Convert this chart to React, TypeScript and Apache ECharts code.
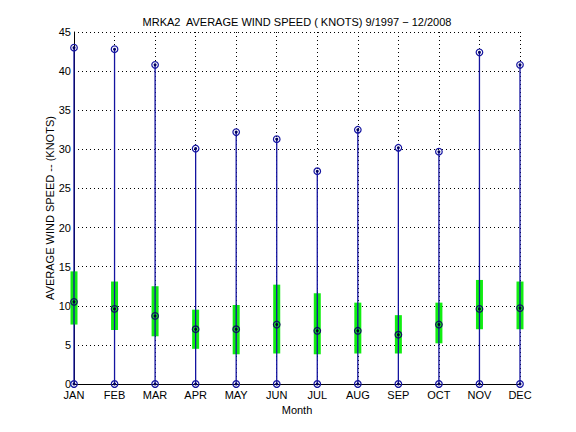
import React, { useEffect, useRef } from "react";
import * as echarts from "echarts";

const months = ["JAN", "FEB", "MAR", "APR", "MAY", "JUN", "JUL", "AUG", "SEP", "OCT", "NOV", "DEC"];
const maxSpeed = [43.0, 42.8, 40.8, 30.1, 32.2, 31.3, 27.2, 32.5, 30.2, 29.7, 42.4, 40.8];
const upperBox = [14.4, 13.1, 12.5, 9.5, 10.1, 12.7, 11.6, 10.4, 8.8, 10.4, 13.3, 13.1];
const lowerBox = [7.6, 6.9, 6.1, 4.5, 3.8, 3.9, 3.8, 3.9, 3.9, 5.2, 7.0, 7.0];
const meanSpeed = [10.5, 9.6, 8.7, 7.0, 7.0, 7.6, 6.8, 6.8, 6.3, 7.6, 9.6, 9.7];
const minSpeed = [0, 0, 0, 0, 0, 0, 0, 0, 0, 0, 0, 0];

const titleText = "MRKA2  AVERAGE WIND SPEED ( KNOTS) 9/1997 \u2212 12/2008";
const yAxisTitle = "AVERAGE WIND SPEED -- (KNOTS)";
const xAxisTitle = "Month";

const FONT = "Liberation Sans, Arial, Helvetica, sans-serif";
const BLUE = "#1414a0";
const GREEN = "#11ee11";

export default function App() {
  const ref = useRef<HTMLDivElement>(null);
  useEffect(() => {
    if (!ref.current) return;
    const chart = echarts.init(ref.current, undefined, { renderer: "svg" });
    const data = months.map((_, i) => [i + 1, minSpeed[i], lowerBox[i], meanSpeed[i], upperBox[i], maxSpeed[i]]);

    const marker = (p: number[], stroke: string, center: string) => [
      { type: "circle", shape: { cx: p[0], cy: p[1], r: 3.3 }, style: { fill: "none", stroke, lineWidth: 1.2 } },
      { type: "circle", shape: { cx: p[0], cy: p[1], r: 1.5 }, style: { fill: center } },
    ];

    chart.setOption({
      animation: false,
      grid: { left: 74, right: 56, top: 32, bottom: 48 },
      graphic: [
        {
          type: "text",
          x: 297,
          y: 22,
          style: {
            text: titleText,
            fontSize: 11,
            fontFamily: FONT,
            fill: "#000",
            textAlign: "center",
            textVerticalAlign: "middle",
          },
        },
        {
          type: "text",
          x: 50,
          y: 208,
          rotation: Math.PI / 2,
          style: {
            text: yAxisTitle,
            fontSize: 11,
            fontFamily: FONT,
            fill: "#000",
            textAlign: "center",
            textVerticalAlign: "middle",
          },
        },
      ],
      xAxis: {
        type: "value",
        min: 1,
        max: 12,
        interval: 1,
        name: xAxisTitle,
        nameLocation: "middle",
        nameGap: 16,
        nameTextStyle: { fontSize: 11, fontFamily: FONT, color: "#000" },
        axisLine: { show: true, onZero: false, lineStyle: { color: "#000", width: 1 } },
        axisTick: { show: false },
        axisLabel: {
          fontSize: 11,
          fontFamily: FONT,
          color: "#000",
          margin: 5,
          formatter: (v: number) => months[Math.round(v) - 1] ?? "",
        },
        splitLine: { show: true, lineStyle: { color: "#000", type: [1, 3], width: 1 } },
      },
      yAxis: {
        type: "value",
        min: 0,
        max: 45,
        interval: 5,
        axisLine: { show: true, lineStyle: { color: "#000", width: 1 } },
        axisTick: { show: false },
        axisLabel: { fontSize: 11, fontFamily: FONT, color: "#000", margin: 3 },
        splitLine: { show: true, lineStyle: { color: "#000", type: [1, 3], width: 1 } },
      },
      series: [
        {
          type: "custom",
          clip: false,
          data,
          encode: { x: 0, y: [1, 5] },
          renderItem: (params: any, api: any) => {
            const x = api.value(0);
            const p0 = api.coord([x, api.value(1)]);
            const pLo = api.coord([x, api.value(2)]);
            const pMean = api.coord([x, api.value(3)]);
            const pHi = api.coord([x, api.value(4)]);
            const pMax = api.coord([x, api.value(5)]);
            return {
              type: "group",
              children: [
                {
                  type: "rect",
                  shape: { x: pHi[0] - 3.5, y: pHi[1], width: 7, height: pLo[1] - pHi[1] },
                  style: { fill: GREEN },
                },
                {
                  type: "line",
                  shape: { x1: p0[0], y1: p0[1], x2: pMax[0], y2: pMax[1] },
                  style: { stroke: BLUE, lineWidth: 1.3 },
                },
                ...marker(pMax, BLUE, "#000060"),
                ...marker(p0, BLUE, "#000060"),
                ...marker(pMean, "#101060", "#000030"),
              ],
            };
          },
        },
      ],
    });
    return () => chart.dispose();
  }, []);
  return <div ref={ref} style={{ width: 576, height: 432, margin: -8, background: "#fff" }} />;
}
